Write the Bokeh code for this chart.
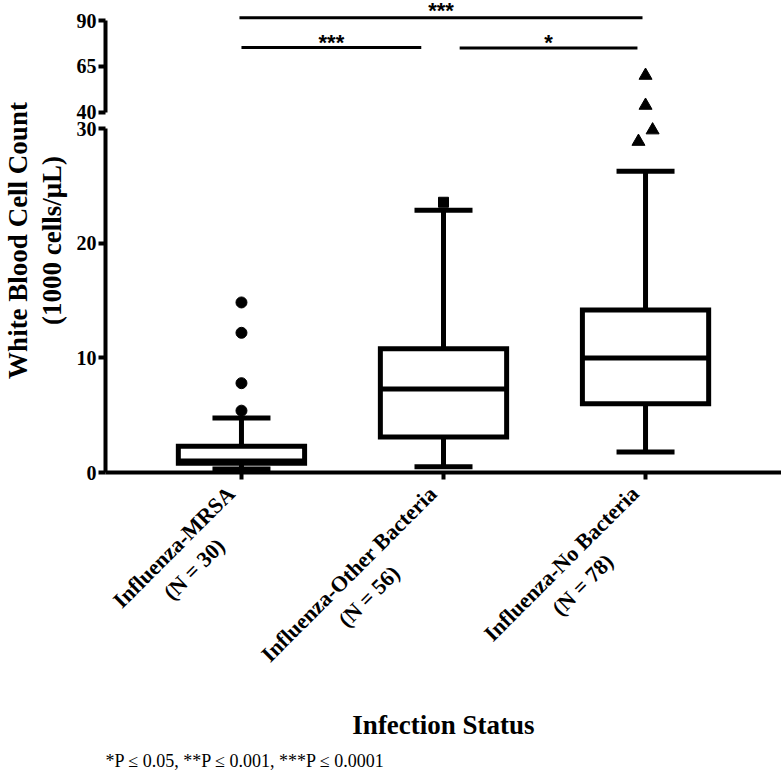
import math
from bokeh.plotting import figure
from bokeh.layouts import row, column
from bokeh.models import Range1d, FixedTicker, Title, ColumnDataSource
from bokeh.embed import file_html
from bokeh.resources import INLINE
from bokeh.core.properties import value

# ---------------- data ----------------
group_names = ["Influenza-MRSA", "Influenza-Other Bacteria", "Influenza-No Bacteria"]
group_n = [30, 56, 78]
cat_pos = [1, 2, 3]
q1 = [0.8, 3.1, 6.0]
median = [1.0, 7.3, 10.0]
q3 = [2.3, 10.8, 14.2]
whisker_low = [0.3, 0.5, 1.8]
whisker_high = [4.75, 22.9, 26.3]

mrsa_outliers = [14.85, 12.2, 7.8, 5.4]
other_outliers = [23.6]
nobact_outliers_low = [29.9, 28.9]      # below the axis break
nobact_jitter_low = [0.035, -0.035]
nobact_outliers_high = [60.1, 43.8]     # above the axis break

lower_ticks = [0, 10, 20, 30]
upper_ticks = [40, 65, 90]

sig_labels = ["***", "***", "*"]        # MRSA vs No, MRSA vs Other, Other vs No
y_title = ["White Blood Cell Count", "(1000 cells/\u03bcL)"]
x_title = "Infection Status"
footnote = "*P \u2264 0.05, **P \u2264 0.001, ***P \u2264 0.0001"

# ---------------- styling helpers ----------------
SERIF = "Liberation Serif"
x_lo, x_hi = 0.327, 3.673
xr = Range1d(x_lo, x_hi)
FW = 676
LEFT = 35
TTL_W = 70

# pad 2nd line so that both lines look centred inside the right-aligned label
pads = [8, 15, 12]
tick_labels = {c: f"{g}\n(N = {n})" + "\u00a0" * pd
               for c, g, n, pd in zip(cat_pos, group_names, group_n, pads)}


def style_yaxis(ax, ticks, bounds):
    ax.ticker = FixedTicker(ticks=ticks)
    ax.bounds = bounds
    ax.axis_line_width = 4
    ax.major_tick_line_width = 4
    ax.major_tick_out = 7
    ax.major_tick_in = 0
    ax.minor_tick_line_color = None
    ax.major_label_text_font = SERIF
    ax.major_label_text_font_style = "bold"
    ax.major_label_text_font_size = "20px"
    ax.major_label_text_color = "black"
    ax.major_label_standoff = 2


def base_fig(frame_h, y_range, **kw):
    f = figure(frame_width=FW, frame_height=frame_h, x_range=xr, y_range=y_range,
               output_backend="svg", toolbar_location=None,
               min_border_left=LEFT, min_border_right=0, min_border_top=0,
               min_border_bottom=0, background_fill_color="white",
               border_fill_color="white", outline_line_color=None, **kw)
    f.grid.visible = False
    return f


# ---------------- upper panel (40 - 90) ----------------
top = base_fig(120, Range1d(35.65, 100.87), x_axis_location=None)
style_yaxis(top.yaxis[0], upper_ticks, (40, 90))

top.scatter(x=[cat_pos[2]] * len(nobact_outliers_high), y=nobact_outliers_high,
            marker="triangle", size=13, color="black")

sig_x0 = [0.99, 1.0, 2.08]
sig_x1 = [2.985, 1.89, 2.96]
sig_y = [91.5, 75.3, 75.0]
sig_ty = [95.5, 78.0, 77.8]
top.segment(x0=sig_x0, y0=sig_y, x1=sig_x1, y1=sig_y, line_color="black", line_width=3)
top.text(x=[(a + b) / 2 for a, b in zip(sig_x0, sig_x1)], y=sig_ty, text=sig_labels,
         text_align="center", text_baseline="alphabetic",
         text_font=value("Liberation Sans"), text_font_style="bold",
         text_font_size="22px", text_color="black")

# ---------------- lower panel (0 - 30) ----------------
bot = base_fig(352, Range1d(0, 30.74))
style_yaxis(bot.yaxis[0], lower_ticks, (0, 30))

xa = bot.xaxis[0]
xa.ticker = FixedTicker(ticks=cat_pos)
xa.major_label_overrides = tick_labels
xa.major_label_orientation = math.pi / 4
xa.axis_line_width = 4
xa.major_tick_line_width = 4
xa.major_tick_out = 7
xa.major_tick_in = 0
xa.minor_tick_line_color = None
xa.major_label_text_font = SERIF
xa.major_label_text_font_style = "bold"
xa.major_label_text_font_size = "22px"
xa.major_label_text_color = "black"
xa.major_label_standoff = 21
xa.axis_label = x_title
xa.axis_label_text_font = SERIF
xa.axis_label_text_font_style = "bold"
xa.axis_label_text_font_size = "27px"
xa.axis_label_text_color = "black"
xa.axis_label_standoff = 0

src = ColumnDataSource(dict(x=cat_pos, q1=q1, med=median, q3=q3,
                            lo=whisker_low, hi=whisker_high))
bot.segment(x0="x", y0="q3", x1="x", y1="hi", source=src, line_color="black", line_width=5)
bot.segment(x0="x", y0="lo", x1="x", y1="q1", source=src, line_color="black", line_width=5)
bot.scatter(x="x", y="hi", source=src, marker="dash", size=58, line_color="black", line_width=5)
bot.scatter(x="x", y="lo", source=src, marker="dash", size=58, line_color="black", line_width=5)
bot.vbar(x="x", width=0.625, bottom="q1", top="q3", source=src,
         fill_color="white", line_color="black", line_width=5, line_join="miter")
bot.scatter(x="x", y="med", source=src, marker="dash", size=126, line_color="black", line_width=5)

bot.scatter(x=[cat_pos[0]] * len(mrsa_outliers), y=mrsa_outliers, marker="circle",
            size=11, color="black")
bot.scatter(x=[cat_pos[1]] * len(other_outliers), y=other_outliers, marker="square",
            size=10, color="black")
bot.scatter(x=[cat_pos[2] + d for d in nobact_jitter_low], y=nobact_outliers_low,
            marker="triangle", size=13, color="black")

bot.add_layout(Title(text=footnote, align="left", text_font=SERIF,
                     text_font_style="normal", text_font_size="18px",
                     text_color="black", standoff=10), "below")

# ---------------- y-axis title column ----------------
ttl = figure(width=TTL_W, height=472, x_range=Range1d(0, TTL_W), y_range=Range1d(0, 472),
             output_backend="svg", toolbar_location=None, min_border=0,
             x_axis_location=None, y_axis_location=None, outline_line_color=None,
             background_fill_color="white", border_fill_color="white")
ttl.grid.visible = False
ttl.text(x=[17, 51], y=[232, 232], text=y_title, angle=math.pi / 2,
         text_align="center", text_baseline="alphabetic",
         text_font=value(SERIF), text_font_style="bold", text_font_size="27px",
         text_color="black")

layout = row(ttl, column(top, bot))
open("out.html", "w").write(file_html(layout, INLINE))
